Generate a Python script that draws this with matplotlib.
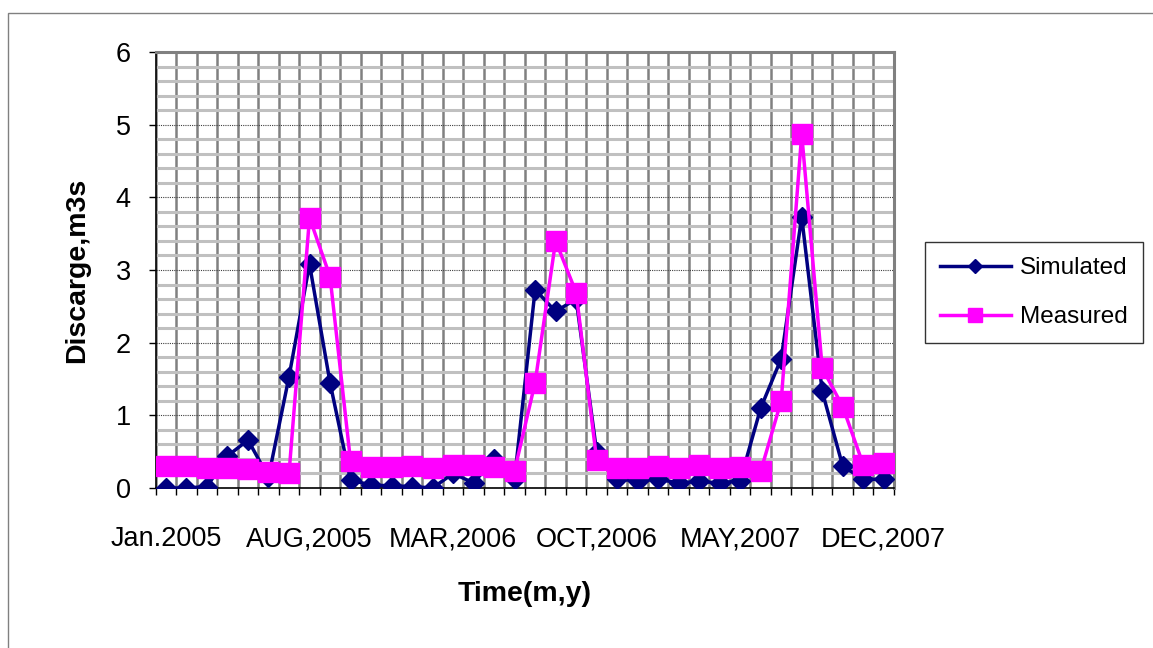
import numpy as np
import matplotlib
matplotlib.use("Agg")
import matplotlib.pyplot as plt
from matplotlib.patches import Rectangle
from matplotlib.ticker import MultipleLocator, FixedLocator

# ---- data ----
months = list(range(36))  # Jan 2005 .. Dec 2007
tick_positions = [0, 7, 14, 21, 28, 35]
tick_labels = ["Jan.2005", "AUG,2005", "MAR,2006", "OCT,2006", "MAY,2007", "DEC,2007"]

simulated = [0.00, 0.00, 0.02, 0.44, 0.66, 0.15, 1.53, 3.08, 1.45, 0.11,
             0.04, 0.03, 0.02, 0.00, 0.20, 0.07, 0.40, 0.13, 2.73, 2.43,
             2.60, 0.50, 0.12, 0.10, 0.12, 0.07, 0.09, 0.07, 0.10, 1.10,
             1.78, 3.73, 1.33, 0.30, 0.12, 0.12]
measured = [0.30, 0.30, 0.28, 0.27, 0.26, 0.22, 0.20, 3.72, 2.91, 0.37,
            0.29, 0.29, 0.30, 0.27, 0.31, 0.31, 0.29, 0.24, 1.45, 3.40,
            2.69, 0.39, 0.28, 0.28, 0.30, 0.27, 0.32, 0.27, 0.29, 0.23,
            1.20, 4.87, 1.65, 1.12, 0.32, 0.34]

plt.rcParams['font.family'] = ['Liberation Sans', 'DejaVu Sans']

W, H = 1153, 648
fig = plt.figure(figsize=(W / 100, H / 100), dpi=100)
ax = fig.add_axes([155.7 / W, 1 - 488 / H, (894 - 155.7) / W, (488 - 52) / H])

ax.plot(months, simulated, color='#000080', lw=2.5, marker='D', ms=10,
        mec='#000080', mfc='#000080', label='Simulated', zorder=4)
ax.plot(months, measured, color='#FF00FF', lw=2.5, marker='s', ms=14,
        mec='#FF00FF', mfc='#FF00FF', label='Measured', zorder=5)

ax.set_xlim(-0.5, 35.5)
ax.set_ylim(0, 6)

# x axis: category boundaries as minor ticks with grid
ax.xaxis.set_major_locator(FixedLocator(tick_positions))
ax.set_xticklabels(tick_labels)
ax.xaxis.set_minor_locator(FixedLocator(np.arange(-0.5, 36, 1.0)))
ax.tick_params(axis='x', which='major', length=0, pad=27.5, labelsize=19.5)
ax.tick_params(axis='x', which='minor', length=5, width=1, color='black', direction='out')
ax.grid(axis='x', which='minor', color='#808080', lw=1.8, zorder=1)
ax.grid(axis='x', which='major', visible=False)

# y axis
ax.yaxis.set_major_locator(MultipleLocator(1))
ax.yaxis.set_minor_locator(MultipleLocator(0.2))
ax.tick_params(axis='y', which='major', length=5, width=1, direction='out', pad=13, labelsize=19.5)
ax.tick_params(axis='y', which='minor', length=0)
ax.grid(axis='y', which='minor', color='#C0C0C0', lw=2.2, zorder=0)
ax.grid(axis='y', which='major', color='#404040', lw=0.8, ls=(0, (1, 1)), zorder=1)
ax.set_axisbelow(True)

for s in ['left', 'bottom']:
    ax.spines[s].set_color('black')
    ax.spines[s].set_linewidth(1.2)
for s in ['top', 'right']:
    ax.spines[s].set_color('#808080')
    ax.spines[s].set_linewidth(2.2)

ax.set_ylabel('Discarge,m3s', fontsize=20.5, fontweight='bold', labelpad=18)
ax.set_xlabel('Time(m,y)', fontsize=20.5, fontweight='bold', labelpad=21)

leg = fig.legend(loc='upper left', bbox_to_anchor=(925 / W, 1 - 242 / H),
                 fontsize=17.5, frameon=True, fancybox=False, edgecolor='black',
                 handlelength=2.9, handletextpad=0.4, borderpad=0.62,
                 labelspacing=1.12, markerscale=0.7, borderaxespad=0)
leg.get_frame().set_linewidth(1.0)

fig.patches.append(Rectangle((8 / W, -0.05), 1.2, 1 - 13 / H + 0.05, transform=fig.transFigure,
                             fill=False, edgecolor='#808080', lw=1.0))

fig.savefig('out.png', dpi=100)
